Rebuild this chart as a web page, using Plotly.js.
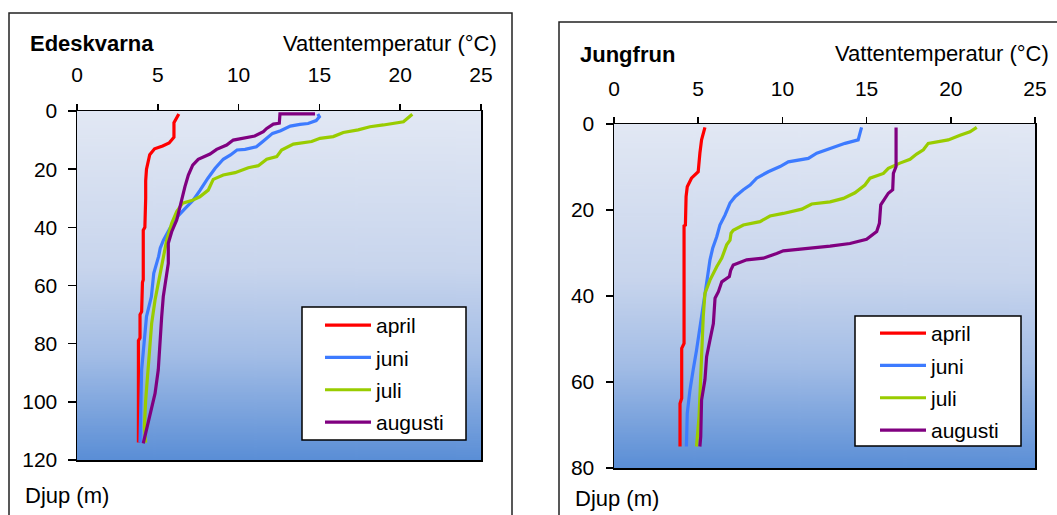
<!DOCTYPE html>
<html>
<head>
<meta charset="utf-8">
<script src="https://cdn.plot.ly/plotly-3.0.1.min.js"></script>
<style>html,body{margin:0;padding:0;background:#fff;}#chart{width:1057px;height:515px;}</style>
</head>
<body>
<div id="chart"></div>
<script>
// ---------- DATA ----------
const seriesNames = ["april", "juni", "juli", "augusti"];
const tempTicks = [0, 5, 10, 15, 20, 25];

// Edeskvarna
const edAprilTemp = [6.3,6.2,6.0,6.0,5.7,5.3,4.8,4.5,4.35,4.3,4.25,4.25,4.2,4.1,4.1,4.05,4.0,3.9,3.9,3.8,3.8];
const edAprilDepth = [1,2,4,9,11,12,13,15,18,20,24,30,40,41,58,59,69,70,78,79,114];

const edJuniTemp = [14.9,15.0,14.8,14.3,13.8,13.2,12.6,12.1,11.5,11.1,10.4,9.9,9.5,9.05,8.55,8.1,7.6,7.2,6.8,6.3,5.75,5.35,5.15,5.05,4.75,4.6,4.3,4.15,4.0,3.9];
const edJuniDepth = [1,2,3.3,4.3,4.6,5.2,6.8,7.7,10.5,12.3,13.2,13.4,15.1,16.6,19.7,23.1,27.4,30.6,32.9,35.8,40.3,44.4,47.2,50,55.8,63.9,70.7,78.7,89,114];

const edJuliTemp = [20.75,20.2,18.96,18.13,17.4,16.48,15.86,15.04,14.52,13.39,12.66,12.36,11.74,11.22,10.6,9.78,9.05,8.43,8.12,7.6,7.1,6.54,6.17,5.86,5.55,5.34,5.09,4.83,4.62,4.45,4.25,4.17,4.25];
const edJuliDepth = [1.1,3.7,4.8,5.4,6.5,7.4,8.8,9.4,10.5,11.4,13.4,15.7,16.6,18.8,19.5,21.2,22,23.5,27.2,29.5,30.8,31.7,34.6,38.6,44.4,50.1,58.1,65,73,84.5,99.4,108.6,114];

const edAugustiTemp = [14.73,12.56,12.52,12.15,11.74,11.53,11.0,10.09,9.67,9.26,8.64,8.23,7.82,7.5,7.16,6.89,6.68,6.48,6.37,6.17,5.86,5.65,5.65,5.45,5.34,5.24,5.1,5.03,4.83,4.52,4.1];
const edAugustiDepth = [1,1,4.2,4.5,6,7.1,8.6,9.4,10,11.7,13.2,14.8,15.9,16.6,18.6,22,26,30.6,34,37.5,41.5,45.5,52.4,59.3,63.8,70.7,82.2,89,97.1,104,114.3];

// Jungfrun
const juAprilTemp = [5.4,5.2,5.1,5.0,4.6,4.35,4.28,4.24,4.16,4.16,4.02,4.02,3.92,3.92];
const juAprilDepth = [0.8,3.7,6.8,11.1,12.6,14.6,16.9,23.5,23.7,51,52.2,63.8,65,75];

const juJuniTemp = [14.7,14.5,13.72,12.83,12.04,11.54,10.35,9.86,9.16,8.47,8.08,7.68,7.19,6.89,6.59,6.29,6.1,5.86,5.8,5.7,5.5,5.3,5.1,4.9,4.7,4.51,4.35,4.3];
const juJuniDepth = [0.8,3.7,4.5,5.7,6.8,8,8.8,9.9,11.1,12.6,14.2,15.3,16.9,18.4,21.2,23.5,26.2,28.9,29.7,31.6,37,42.5,47.1,52.6,57.2,61.9,67.3,75];

const juJuliTemp = [21.54,21.14,20.55,19.85,18.66,18.37,17.97,17.58,16.98,16.29,16.0,15.2,14.9,14.31,13.62,12.83,11.74,11.15,10.05,9.26,8.67,7.68,7.08,6.95,6.89,6.69,6.4,6.1,5.7,5.4,5.3,5.2,5.15,5.05,4.9];
const juJuliDepth = [0.8,1.8,2.6,3.7,4.5,6.0,7.0,8.2,9.1,10.3,11.5,12.6,14.2,16.0,17.3,18.1,18.6,19.8,20.8,21.4,22.7,23.5,24.7,25.4,27.0,28.1,31.2,33.2,36.3,39.4,44.8,54.1,61.9,68.1,75];

const juAugustiTemp = [16.75,16.75,16.59,16.55,16.29,16.1,15.84,15.76,15.6,15.0,14.01,12.83,11.44,10.05,9.66,8.87,7.88,7.08,6.93,6.85,6.4,6.2,6.0,5.9,5.7,5.5,5.4,5.2,5.15,5.1];
const juAugustiDepth = [0.8,9.9,11.5,15.3,16.1,17.3,18.8,23.1,25,26.8,27.8,28.4,28.9,29.5,30.1,31.2,31.6,32.8,34,35.5,36.7,39,40.5,46.4,50.2,54.1,59.5,64.2,72.7,75];

const edTicksDepth = [0, 20, 40, 60, 80, 100, 120];
const juTicksDepth = [0, 20, 40, 60, 80];

// ---------- STYLE ----------
const colors = ["#ff0000", "#3d7bff", "#99cc00", "#800080"];
const W = 1057, H = 515;
const FONT = "Arial, 'Liberation Sans', sans-serif";
const fx = v => v / W;
const fy = v => 1 - v / H;

// gradient background image
function gradientURL() {
  const c = document.createElement("canvas");
  c.width = 8; c.height = 400;
  const g = c.getContext("2d");
  const grd = g.createLinearGradient(0, 0, 0, 400);
  grd.addColorStop(0, "#e2e8f4");
  grd.addColorStop(0.45, "#c8d5ed");
  grd.addColorStop(0.7, "#a3bde6");
  grd.addColorStop(1, "#5a8ed6");
  g.fillStyle = grd;
  g.fillRect(0, 0, 8, 400);
  return c.toDataURL("image/png");
}
const bg = gradientURL();

const edSets = [[edAprilTemp, edAprilDepth],[edJuniTemp, edJuniDepth],[edJuliTemp, edJuliDepth],[edAugustiTemp, edAugustiDepth]];
const juSets = [[juAprilTemp, juAprilDepth],[juJuniTemp, juJuniDepth],[juJuliTemp, juJuliDepth],[juAugustiTemp, juAugustiDepth]];

const traces = [];
edSets.forEach((s, i) => traces.push({
  x: s[0], y: s[1], xaxis: "x", yaxis: "y", mode: "lines", name: seriesNames[i],
  line: {color: colors[i], width: 3.2}, legend: "legend", legendgroup: "e" + i, hoverinfo: "skip"
}));
juSets.forEach((s, i) => traces.push({
  x: s[0], y: s[1], xaxis: "x2", yaxis: "y2", mode: "lines", name: seriesNames[i],
  line: {color: colors[i], width: 3.2}, legend: "legend2", legendgroup: "j" + i, hoverinfo: "skip"
}));

const axBase = {
  showline: true, linecolor: "#000", linewidth: 1.5, mirror: true,
  ticks: "outside", tickwidth: 1.5, tickcolor: "#000",
  showgrid: false, zeroline: false, fixedrange: true,
  tickfont: {family: FONT, size: 21, color: "#000"}
};

const legBase = {
  bgcolor: "rgba(0,0,0,0)", borderwidth: 0,
  font: {family: FONT, size: 21, color: "#000"},
  traceorder: "grouped", tracegroupgap: 2, itemwidth: 46,
  xanchor: "left", yanchor: "top"
};

const layout = {
  width: W, height: H, margin: {l: 0, r: 0, t: 0, b: 0},
  paper_bgcolor: "#fff", plot_bgcolor: "rgba(0,0,0,0)",
  showlegend: true,
  xaxis: Object.assign({}, axBase, {domain: [fx(77), fx(481)], range: [0, 25], tickvals: tempTicks, side: "top", anchor: "y", ticklen: 6, ticklabelstandoff: 13}),
  yaxis: Object.assign({}, axBase, {domain: [fy(460), fy(111)], range: [120, 0], tickvals: edTicksDepth, anchor: "x", ticklen: 8, ticklabelstandoff: 6}),
  xaxis2: Object.assign({}, axBase, {domain: [fx(614), fx(1035)], range: [0, 25], tickvals: tempTicks, side: "top", anchor: "y2", ticklen: 6, ticklabelstandoff: 12}),
  yaxis2: Object.assign({}, axBase, {domain: [fy(468), fy(124)], range: [80, 0], tickvals: juTicksDepth, anchor: "x2", ticklen: 7, ticklabelstandoff: 7}),
  legend: Object.assign({}, legBase, {x: fx(320), y: fy(305)}),
  legend2: Object.assign({}, legBase, {x: fx(875), y: fy(313)}),
  images: [
    {source: bg, xref: "x domain", yref: "y domain", x: 0, y: 1, sizex: 1, sizey: 1, xanchor: "left", yanchor: "top", sizing: "stretch", layer: "below"},
    {source: bg, xref: "x2 domain", yref: "y2 domain", x: 0, y: 1, sizex: 1, sizey: 1, xanchor: "left", yanchor: "top", sizing: "stretch", layer: "below"}
  ],
  shapes: [
    {type: "rect", xref: "paper", yref: "paper", x0: fx(9), x1: fx(512), y0: -0.05, y1: fy(13), line: {color: "#222", width: 1.5}},
    {type: "rect", xref: "paper", yref: "paper", x0: fx(559), x1: 1.05, y0: -0.05, y1: fy(22), line: {color: "#222", width: 1.5}},
    {type: "rect", xref: "paper", yref: "paper", x0: fx(302), x1: fx(466), y0: fy(440), y1: fy(307), fillcolor: "#fff", line: {color: "#000", width: 1.5}, layer: "above"},
    {type: "rect", xref: "paper", yref: "paper", x0: fx(855), x1: fx(1021), y0: fy(446), y1: fy(316), fillcolor: "#fff", line: {color: "#000", width: 1.5}, layer: "above"}
  ],
  annotations: [
    {text: "<b>Edeskvarna</b>", xref: "paper", yref: "paper", x: fx(28), y: fy(43), xanchor: "left", yanchor: "middle", showarrow: false, font: {family: FONT, size: 22, color: "#000"}},
    {text: "Vattentemperatur (°C)", xref: "paper", yref: "paper", x: fx(499), y: fy(43), xanchor: "right", yanchor: "middle", showarrow: false, font: {family: FONT, size: 22, color: "#000"}},
    {text: "Djup (m)", xref: "paper", yref: "paper", x: fx(23), y: fy(495), xanchor: "left", yanchor: "middle", showarrow: false, font: {family: FONT, size: 22, color: "#000"}},
    {text: "<b>Jungfrun</b>", xref: "paper", yref: "paper", x: fx(578), y: fy(55), xanchor: "left", yanchor: "middle", showarrow: false, font: {family: FONT, size: 22, color: "#000"}},
    {text: "Vattentemperatur (°C)", xref: "paper", yref: "paper", x: fx(1051), y: fy(53), xanchor: "right", yanchor: "middle", showarrow: false, font: {family: FONT, size: 22, color: "#000"}},
    {text: "Djup (m)", xref: "paper", yref: "paper", x: fx(573), y: fy(498), xanchor: "left", yanchor: "middle", showarrow: false, font: {family: FONT, size: 22, color: "#000"}}
  ]
};

Plotly.newPlot("chart", traces, layout, {displayModeBar: false, staticPlot: true});
</script>
</body>
</html>
